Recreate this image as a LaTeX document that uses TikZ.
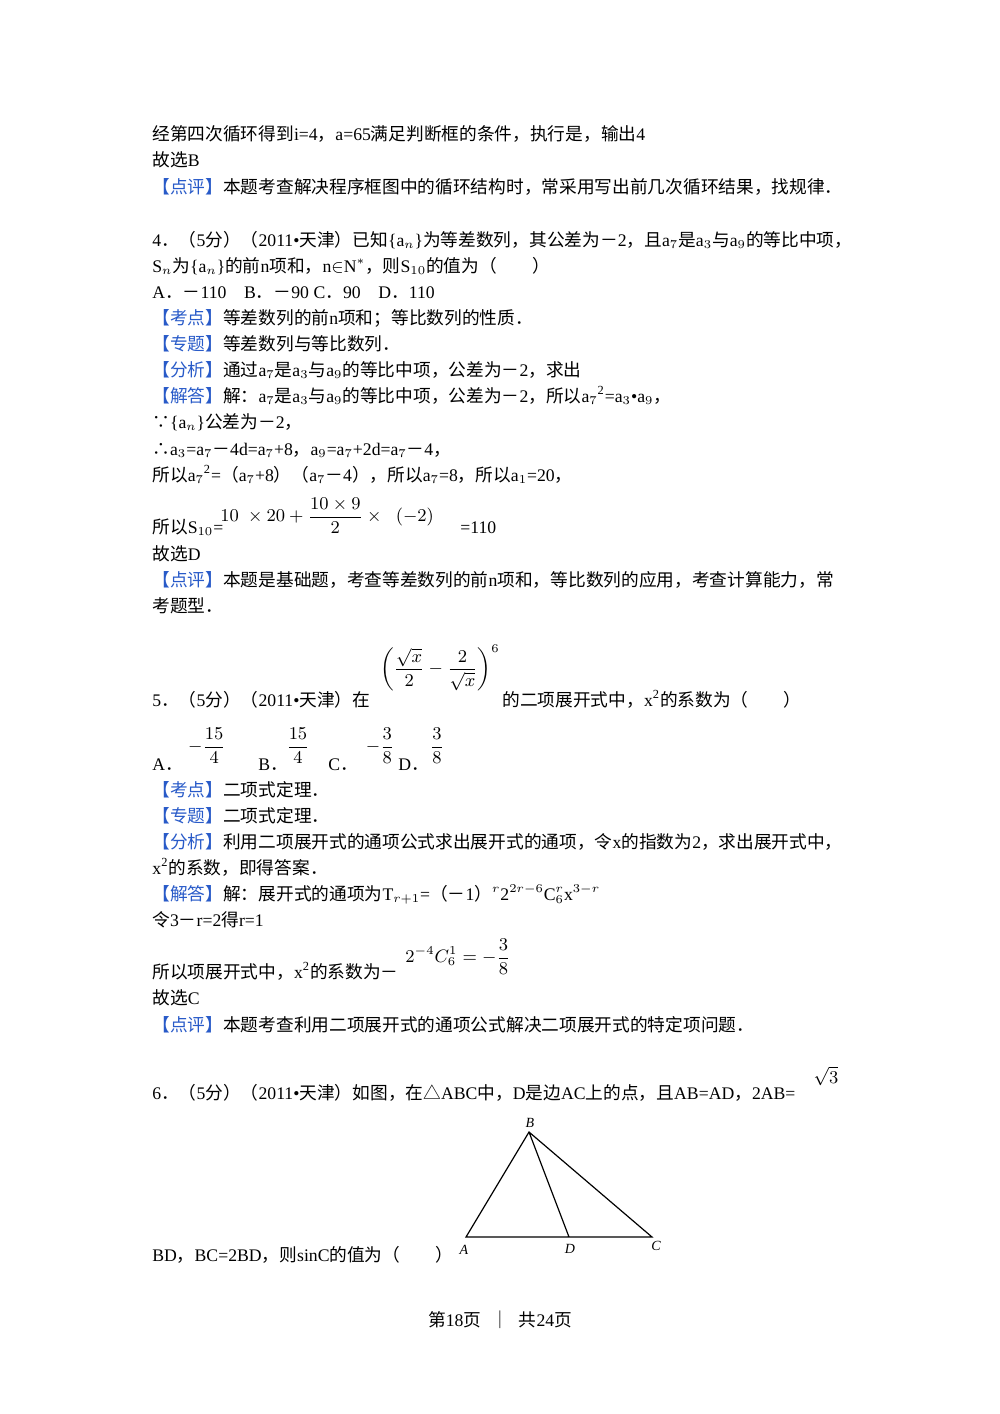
\documentclass[tikz,border=0pt]{standalone}
\usepackage{amsmath}
\usepackage{fontspec}
\setmainfont{Liberation Serif}
\newfontfamily\cjk{Noto Sans CJK SC}
\newfontfamily\lat{Liberation Serif}
\XeTeXinterchartokenstate=1
\newXeTeXintercharclass\CJKcls
\count255="3000 \loop \XeTeXcharclass\count255=\CJKcls \advance\count255 by 1 \ifnum\count255<"A000 \repeat
\count255="FF00 \loop \XeTeXcharclass\count255=\CJKcls \advance\count255 by 1 \ifnum\count255<"FFF0 \repeat
\count255="25A0 \loop \XeTeXcharclass\count255=\CJKcls \advance\count255 by 1 \ifnum\count255<"2600 \repeat
\XeTeXcharclass"2234=\CJKcls \XeTeXcharclass"2235=\CJKcls
\XeTeXinterchartoks 0 \CJKcls = {\cjk}
\XeTeXinterchartoks 4095 \CJKcls = {\cjk}
\XeTeXinterchartoks \CJKcls 0 = {\lat}
\XeTeXinterchartoks 4095 0 = {\lat}
\definecolor{kblue}{RGB}{40,90,200}
\newcommand{\kd}[1]{\textcolor{kblue}{【#1】}}
\newcommand{\sq}{\textsuperscript{2}}
\tikzset{tx/.style={anchor=base west,inner sep=0pt,font=\fontsize{8.85}{10}\selectfont},
 mx/.style={anchor=center,inner sep=0pt,font=\fontsize{8.85}{10}\selectfont},
 lb/.style={inner sep=0pt,font=\fontsize{7}{8}\selectfont\itshape}}
\begin{document}
\begin{tikzpicture}[x=0.5pt,y=-0.5pt]
\useasboundingbox (0,0) rectangle (1000,1414);
\node[tx] (l1) at (152,140) {经第四次循环得到i=4，a=65满足判断框的条件，执行是，输出4};
\node[tx] (l2) at (152,166) {故选B};
\node[tx] (l3) at (152,193) {\kd{点评}本题考查解决程序框图中的循环结构时，常采用写出前几次循环结果，找规律．};
\node[tx] (l4) at (152,246) {4．（5分）（2011•天津）已知\{a$_n$\}为等差数列，其公差为－2，且a$_7$是a$_3$与a$_9$的等比中项，};
\node[tx] (l5) at (152,272) {S$_n$为\{a$_n$\}的前n项和，n$\in$N$^*$，则S$_{10}$的值为（　　）};
\node[tx] (l6) at (152,298) {A．－110\quad B．－90 C．90\quad D．110};
\node[tx] (l7) at (152,324) {\kd{考点}等差数列的前n项和；等比数列的性质．};
\node[tx] (l8) at (152,350) {\kd{专题}等差数列与等比数列．};
\node[tx] (l9) at (152,376) {\kd{分析}通过a$_7$是a$_3$与a$_9$的等比中项，公差为－2，求出};
\node[tx] (l10) at (152,402) {\kd{解答}解：a$_7$是a$_3$与a$_9$的等比中项，公差为－2，所以a$_7$\sq=a$_3$•a$_9$，};
\node[tx] (l11) at (152,428) {∵\{a$_n$\}公差为－2，};
\node[tx] (l12) at (152,455) {∴a$_3$=a$_7$－4d=a$_7$+8，a$_9$=a$_7$+2d=a$_7$－4，};
\node[tx] (l13) at (152,481) {所以a$_7$\sq=（a$_7$+8）（a$_7$－4），所以a$_7$=8，所以a$_1$=20，};
\node[tx] (l14) at (152,533) {所以S$_{10}$=};
\node[mx,anchor=west] (f1) at (220,516) {$10\;\times20+\dfrac{10\times9}{2}\times\;\;(-2)$};
\node[tx] (l14b) at (460,533) {=110};
\node[tx] (l15) at (152,560) {故选D};
\node[tx] (l16) at (152,586) {\kd{点评}本题是基础题，考查等差数列的前n项和，等比数列的应用，考查计算能力，常};
\node[tx] (l17) at (152,612) {考题型．};
\node[mx] (f2) at (440,668) {$\left(\dfrac{\sqrt{x}}{2}-\dfrac{2}{\sqrt{x}}\right)^{6}$};
\node[tx] (l18) at (152,706) {5．（5分）（2011•天津）在};
\node[tx] (l18b) at (502,706) {的二项展开式中，x\sq 的系数为（　　）};
\node[tx] (oA) at (152,770) {A．};
\node[mx] (fA) at (207,746) {$-\dfrac{15}{4}$};
\node[tx] (oB) at (258,770) {B．};
\node[mx] (fB) at (298,746) {$\dfrac{15}{4}$};
\node[tx] (oC) at (328,770) {C．};
\node[mx] (fC) at (380,746) {$-\dfrac{3}{8}$};
\node[tx] (oD) at (398,770) {D．};
\node[mx] (fD) at (437,746) {$\dfrac{3}{8}$};
\node[tx] (l19) at (152,796) {\kd{考点}二项式定理．};
\node[tx] (l20) at (152,822) {\kd{专题}二项式定理．};
\node[tx] (l21) at (152,848) {\kd{分析}利用二项展开式的通项公式求出展开式的通项，令x的指数为2，求出展开式中，};
\node[tx] (l22) at (152,874) {x\sq 的系数，即得答案．};
\node[tx] (l23) at (152,900) {\kd{解答}解：展开式的通项为T$_{r+1}$=（－1）$^r$2$^{2r-6}$C$_6^r$x$^{3-r}$};
\node[tx] (l24) at (152,926) {令3－r=2得r=1};
\node[tx] (l25) at (152,978) {所以项展开式中，x\sq 的系数为－};
\node[mx] (f3) at (458,957) {$2^{-4}C_6^1=-\dfrac{3}{8}$};
\node[tx] (l26) at (152,1004) {故选C};
\node[tx] (l27) at (152,1031) {\kd{点评}本题考查利用二项展开式的通项公式解决二项展开式的特定项问题．};
\node[tx] (l28) at (152,1099) {6．（5分）（2011•天津）如图，在△ABC中，D是边AC上的点，且AB=AD，2AB=};
\node[mx] (f4) at (826,1076) {$\sqrt{3}$};
\node[tx] (l29) at (152,1261) {BD，BC=2BD，则sinC的值为（　　）};
\coordinate (A) at (466,1237);
\coordinate (B) at (529,1132);
\coordinate (D) at (569,1237);
\coordinate (C) at (652,1237);
\draw[line width=0.6pt] (A) -- (B) -- (C) -- cycle (B) -- (D);
\node[lb] (nA) at (464,1250) {A};
\node[lb] (nB) at (530,1123) {B};
\node[lb] (nD) at (570,1249) {D};
\node[lb] (nC) at (656,1246) {C};
\node[tx,anchor=base] (ft) at (500,1326) {第18页\hspace{5pt}｜\hspace{5pt}共24页};
\end{tikzpicture}
\end{document}
